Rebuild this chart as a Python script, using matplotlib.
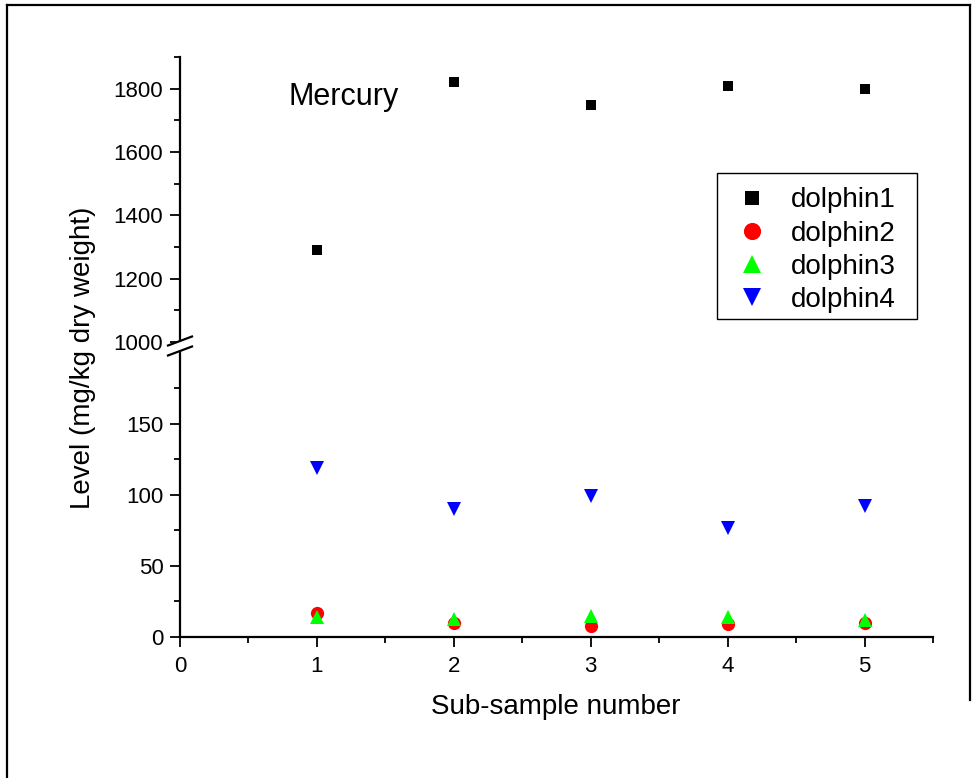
import matplotlib
matplotlib.use("Agg")
import matplotlib.pyplot as plt
from matplotlib.lines import Line2D
from matplotlib.patches import Polygon, Rectangle
from matplotlib.ticker import MultipleLocator, FixedLocator

# ── data ──────────────────────────────────────────────────────────────
sub_sample = [1, 2, 3, 4, 5]
dolphin1 = [1290, 1820, 1750, 1810, 1800]
dolphin2 = [17, 10, 8, 9, 10]
dolphin3 = [14, 13, 15, 14, 12]
dolphin4 = [119, 90, 99, 77, 92]

series = [
    ("dolphin1", dolphin1, "s", "black", 7.8),
    ("dolphin2", dolphin2, "o", "red", 9.5),
    ("dolphin3", dolphin3, "^", "#00ff00", 10),
    ("dolphin4", dolphin4, "v", "blue", 10),
]

plt.rcParams["font.family"] = ["Liberation Sans", "DejaVu Sans"]

W, H = 979, 778
fig = plt.figure(figsize=(W / 100, H / 100), dpi=100)


def px(x, y):
    """pixel (from top-left) -> figure fraction"""
    return x / W, 1 - y / H


# axes geometry in pixels
x_left, x_right = 180, 933
y_zero, y_brk, y_top = 637, 342, 57

ax_lo = fig.add_axes([x_left / W, 1 - y_zero / H, (x_right - x_left) / W, (y_zero - y_brk) / H])
ax_hi = fig.add_axes([x_left / W, 1 - y_brk / H, (x_right - x_left) / W, (y_brk - y_top) / H],
                     sharex=ax_lo)

handles = []
for name, vals, mk, col, ms in series:
    for ax in (ax_lo, ax_hi):
        ax.plot(sub_sample, vals, linestyle="none", marker=mk, color=col,
                markersize=ms, markeredgewidth=0, clip_on=True)
    handles.append(Line2D([], [], linestyle="none", marker=mk, color=col,
                          markersize=ms * 1.3, markeredgewidth=0, label=name))

ax_lo.set_xlim(0, 5.5)
ax_lo.set_ylim(0, 207.5)
ax_hi.set_ylim(1000, 1900)

for ax in (ax_lo, ax_hi):
    for s in ("top", "right"):
        ax.spines[s].set_visible(False)
    ax.spines["left"].set_linewidth(1.6)
    ax.spines["bottom"].set_linewidth(1.6)
    ax.tick_params(which="major", direction="out", length=7, width=1.3,
                   labelsize=16, pad=5, colors="black")
    ax.tick_params(which="minor", direction="out", length=4, width=1.3)

ax_hi.spines["bottom"].set_visible(False)
ax_hi.tick_params(axis="x", which="both", bottom=False, labelbottom=False)

ax_lo.xaxis.set_major_locator(MultipleLocator(1))
ax_lo.xaxis.set_minor_locator(MultipleLocator(0.5))
ax_lo.tick_params(axis="x", pad=7)

ax_lo.yaxis.set_major_locator(FixedLocator([0, 50, 100, 150]))
ax_lo.yaxis.set_minor_locator(FixedLocator([25, 75, 125, 175]))
ax_hi.yaxis.set_major_locator(MultipleLocator(200))
ax_hi.yaxis.set_minor_locator(FixedLocator([1100, 1300, 1500, 1700, 1900]))

# axis-break mark on the left spine
bx, by = x_left, 346
gap, dx, dy = 5, 12, 4.5
poly = Polygon([px(bx - dx, by - gap + dy), px(bx + dx, by - gap - dy),
                px(bx + dx, by + gap - dy), px(bx - dx, by + gap + dy)],
               closed=True, transform=fig.transFigure, facecolor="white",
               edgecolor="none", zorder=10)
fig.add_artist(poly)
for off in (-gap, gap):
    (xa, ya), (xb, yb) = px(bx - dx, by + off + dy), px(bx + dx, by + off - dy)
    fig.add_artist(Line2D([xa, xb], [ya, yb], transform=fig.transFigure,
                          color="black", linewidth=1.6, zorder=11))

# labels
fig.text(*px(556, 707), "Sub-sample number", fontsize=20, ha="center", va="center")
fig.text(*px(83, 358), "Level (mg/kg dry weight)", fontsize=20, ha="center",
         va="center", rotation=90)
fig.text(*px(289, 97), "Mercury", fontsize=22, ha="left", va="center")

# legend entries, with a plain box drawn around them
ax_hi.legend(handles=handles, loc="upper left",
             bbox_to_anchor=px(717, 178), bbox_transform=fig.transFigure,
             fontsize=20, frameon=False,
             borderpad=0.34, labelspacing=0.256, handlelength=1.83,
             handletextpad=0.49, borderaxespad=0)
lx0, ly0 = px(717, 319)
lx1, ly1 = px(917, 173)
fig.add_artist(Rectangle((lx0, ly0), lx1 - lx0, ly1 - ly0, transform=fig.transFigure,
                         facecolor="none", edgecolor="black", linewidth=1.0, zorder=5))

# page frame
for (xa, ya), (xb, yb) in [((7, 5), (970, 5)), ((7, 5), (7, 778)), ((970, 5), (970, 700))]:
    pa, pb = px(xa, ya), px(xb, yb)
    fig.add_artist(Line2D([pa[0], pb[0]], [pa[1], pb[1]], transform=fig.transFigure,
                          color="black", linewidth=1.6))

fig.savefig("out.png", dpi=100, facecolor="white")
